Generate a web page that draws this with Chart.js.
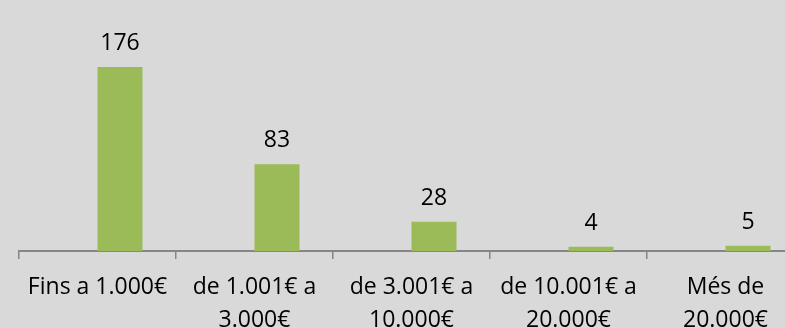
<!DOCTYPE html>
<html>
<head>
<meta charset="utf-8">
<script src="https://cdn.jsdelivr.net/npm/chart.js@4"></script>
<style>
  html, body { margin: 0; padding: 0; background: #d9d9d9; overflow: hidden; }
  #wrap { position: relative; width: 830px; height: 328px; }
</style>
</head>
<body>
<div id="wrap"><canvas id="chart"></canvas></div>
<script>
// Trams d'import
const categories = [
  ["Fins a 1.000€"],
  ["de 1.001€ a", "3.000€"],
  ["de 3.001€ a", "10.000€"],
  ["de 10.001€ a", "20.000€"],
  ["Més de", "20.000€"]
];
// Sèrie buida (ocupa el lloc de l'esquerra de cada grup)
const emptySeries = [null, null, null, null, null];
const values = [176, 83, 28, 4, 5];
const yMax = 200;

const FONT = "'Open Sans', sans-serif";

// Etiquetes de valor damunt de cada barra
const valueLabels = {
  id: "valueLabels",
  afterDatasetsDraw(chart) {
    const ctx = chart.ctx;
    const meta = chart.getDatasetMeta(1);
    ctx.save();
    ctx.font = "23px " + FONT;
    ctx.fillStyle = "#000";
    ctx.textAlign = "center";
    ctx.textBaseline = "alphabetic";
    meta.data.forEach((bar, i) => {
      ctx.fillText(values[i], bar.x, bar.y - 17);
    });
    ctx.restore();
  }
};

new Chart(document.getElementById("chart"), {
  type: "bar",
  data: {
    labels: categories,
    datasets: [
      { data: emptySeries, backgroundColor: "#4f81bd" },
      { data: values, backgroundColor: "#9bbb59" }
    ]
  },
  options: {
    responsive: true,
    maintainAspectRatio: false,
    animation: false,
    layout: { padding: { left: 19, right: 26, top: 42, bottom: 0 } },
    datasets: { bar: { categoryPercentage: 0.573, barPercentage: 1 } },
    plugins: { legend: { display: false }, tooltip: { enabled: false } },
    scales: {
      x: {
        afterFit(scale) { scale.height = 77; },
        grid: {
          offset: true,
          drawOnChartArea: false,
          drawTicks: true,
          tickLength: 8,
          color: "#868686",
          lineWidth: 1.5
        },
        border: { display: true, color: "#868686", width: 2 },
        ticks: {
          color: "#000",
          padding: 12,
          maxRotation: 0,
          autoSkip: false,
          font: { family: FONT, size: 23, lineHeight: 1.435 }
        }
      },
      y: {
        display: false,
        min: 0,
        max: yMax
      }
    }
  },
  plugins: [valueLabels]
});
</script>
</body>
</html>
